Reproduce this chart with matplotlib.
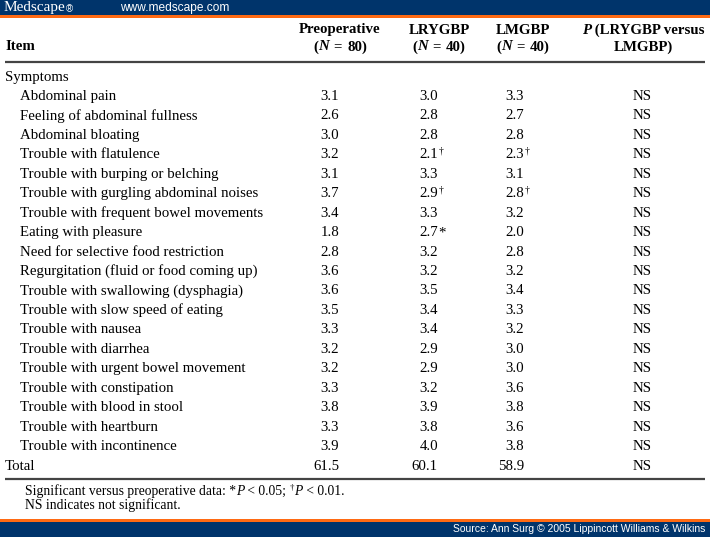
import matplotlib
matplotlib.use("Agg")
import matplotlib.pyplot as plt

items = ["Abdominal pain", "Feeling of abdominal fullness", "Abdominal bloating",
         "Trouble with flatulence", "Trouble with burping or belching",
         "Trouble with gurgling abdominal noises", "Trouble with frequent bowel movements",
         "Eating with pleasure", "Need for selective food restriction",
         "Regurgitation (fluid or food coming up)", "Trouble with swallowing (dysphagia)",
         "Trouble with slow speed of eating", "Trouble with nausea", "Trouble with diarrhea",
         "Trouble with urgent bowel movement", "Trouble with constipation",
         "Trouble with blood in stool", "Trouble with heartburn", "Trouble with incontinence"]
preop = ["3.1", "2.6", "3.0", "3.2", "3.1", "3.7", "3.4", "1.8", "2.8", "3.6",
         "3.6", "3.5", "3.3", "3.2", "3.2", "3.3", "3.8", "3.3", "3.9"]
lrygbp = ["3.0", "2.8", "2.8", "2.1", "3.3", "2.9", "3.3", "2.7", "3.2", "3.2",
          "3.5", "3.4", "3.4", "2.9", "2.9", "3.2", "3.9", "3.8", "4.0"]
lrygbp_mark = ["", "", "", "†", "", "†", "", "*", "", "", "", "", "", "", "", "", "", "", ""]
lmgbp = ["3.3", "2.7", "2.8", "2.3", "3.1", "2.8", "3.2", "2.0", "2.8", "3.2",
         "3.4", "3.3", "3.2", "3.0", "3.0", "3.6", "3.8", "3.6", "3.8"]
lmgbp_mark = ["", "", "", "†", "", "†", "", "", "", "", "", "", "", "", "", "", "", "", ""]
pvals = ["NS"] * 19
total = ["61.5", "60.1", "58.9", "NS"]
col_names = ["Preoperative", "LRYGBP", "LMGBP"]
col_n = ["80", "40", "40"]

W, H = 710, 537
fig = plt.figure(figsize=(W / 100, H / 100), dpi=100)
ax = fig.add_axes([0, 0, 1, 1])
ax.set_xlim(0, W)
ax.set_ylim(H, 0)
ax.axis('off')
renderer = fig.canvas.get_renderer()

serif = "Liberation Serif"


def chain(pieces, x, y, ha="left", **common):
    """pieces: list of (text, extra kwargs, dy, gap_after). Draw consecutively."""
    arts = []
    cx = x
    for txt, kw, dy, gap in pieces:
        opts = dict(common)
        opts.update(kw)
        t = ax.text(cx, y + dy, txt, va="center", ha="left", **opts)
        bb = t.get_window_extent(renderer)
        cx += bb.width + gap  # 1 data unit = 1 pixel
        arts.append(t)
    total_w = cx - x
    if ha == "center":
        for t in arts:
            t.set_x(t.get_position()[0] - total_w / 2)
    elif ha == "right":
        for t in arts:
            t.set_x(t.get_position()[0] - total_w)
    return arts


blue = "#00346b"
orange = "#ff6a13"
# top banner
ax.add_patch(plt.Rectangle((0, 0), W, 15, color=blue, lw=0))
ax.add_patch(plt.Rectangle((0, 15), W, 2.5, color=orange, lw=0))
ax.text(4, 8, "Medscape", color="white", fontsize=11, family=serif, va="center", ha="left")
ax.text(66, 9, "®", color="white", fontsize=7, family="Liberation Sans", va="center", ha="left")
ax.text(120, 8, "www.medscape.com", color="white", fontsize=8.6, family="Liberation Sans", va="center", ha="left")
# bottom banner
ax.add_patch(plt.Rectangle((0, 519), W, 2.5, color=orange, lw=0))
ax.add_patch(plt.Rectangle((0, 521.5), W, 16, color=blue, lw=0))
ax.text(705, 529.5, "Source: Ann Surg © 2005 Lippincott Williams & Wilkins", color="white",
        fontsize=7.5, family="Liberation Sans", va="center", ha="right")

fs = 10.75
hfs = 10.75
# header
hx = [340, 439, 523, 643]
bold = dict(fontsize=hfs, family=serif, weight="bold")
ax.text(5, 47, "Item", va="center", ha="left", **bold)
for j in range(3):
    ax.text(hx[j], 30, col_names[j], va="center", ha="center", **bold)
    chain([("(", {}, 0, 0), ("N", {"style": "italic"}, 0, 5), ("=", {}, 0, 5),
           (col_n[j] + ")", {}, 0, 0)],
          hx[j], 47, ha="center", **bold)
chain([("P", {"style": "italic"}, 0, 0), (" (LRYGBP versus", {}, 0, 0)], hx[3], 30, ha="center", **bold)
ax.text(hx[3], 47, "LMGBP)", va="center", ha="center", **bold)

ax.plot([5, 705], [61.5, 61.5], color="#444444", lw=1.6, solid_capstyle="butt")
ax.plot([5, 705], [479, 479], color="#444444", lw=1.6, solid_capstyle="butt")

# body
y0 = 77
step = (466 - 77) / 20
reg = dict(fontsize=fs, family=serif)
ax.text(5, y0, "Symptoms", va="center", ha="left", **reg)
colx = [339, 438, 524]
for i, name in enumerate(items):
    y = y0 + step * (i + 1)
    ax.text(20, y, name, va="center", ha="left", **reg)
    ax.text(colx[0], y, preop[i], va="center", ha="right", **reg)
    ax.text(colx[1], y, lrygbp[i], va="center", ha="right", **reg)
    if lrygbp_mark[i]:
        if lrygbp_mark[i] == "*":
            ax.text(colx[1], y, "*", va="center", ha="left", **reg)
        else:
            ax.text(colx[1] + 0.5, y - 4, lrygbp_mark[i], fontsize=7, family=serif, va="center", ha="left")
    ax.text(colx[2], y, lmgbp[i], va="center", ha="right", **reg)
    if lmgbp_mark[i]:
        ax.text(colx[2] + 0.5, y - 4, lmgbp_mark[i], fontsize=7, family=serif, va="center", ha="left")
    ax.text(hx[3] - 1, y, pvals[i], va="center", ha="center", **reg)
yt = y0 + step * 20
ax.text(5, yt, "Total", va="center", ha="left", **reg)
for j in range(3):
    ax.text(colx[j], yt, total[j], va="center", ha="right", **reg)
ax.text(hx[3] - 1, yt, total[3], va="center", ha="center", **reg)

# footnotes
fn = 9.8
small = dict(fontsize=fn, family=serif)
chain([("Significant versus preoperative data: *", {}, 0, 0),
       ("P", {"style": "italic"}, 0, 0),
       (" < 0.05; ", {}, 0, 0),
       ("†", {"fontsize": 6.5}, -3.5, 0),
       ("P", {"style": "italic"}, 0, 0),
       (" < 0.01.", {}, 0, 0)], 25, 491.5, **small)
ax.text(25, 505, "NS indicates not significant.", va="center", ha="left", **small)

fig.savefig("out.png", dpi=100)
